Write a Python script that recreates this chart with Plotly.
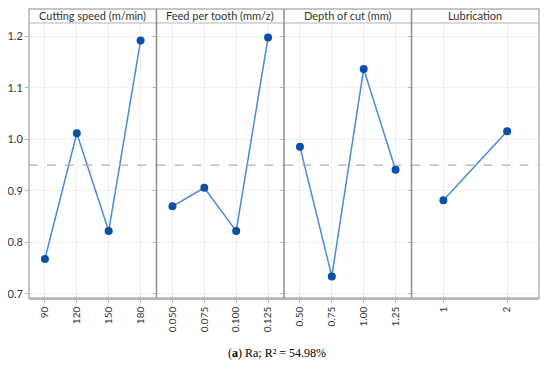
import plotly.graph_objects as go
from plotly.subplots import make_subplots

factors = ["Cutting speed (m/min)", "Feed per tooth (mm/z)", "Depth of cut (mm)", "Lubrication"]
cutting_levels = ["90", "120", "150", "180"]
cutting_means = [0.768, 1.012, 0.822, 1.192]
feed_levels = ["0.050", "0.075", "0.100", "0.125"]
feed_means = [0.870, 0.906, 0.822, 1.198]
depth_levels = ["0.50", "0.75", "1.00", "1.25"]
depth_means = [0.986, 0.734, 1.137, 0.941]
lub_levels = ["1", "2"]
lub_means = [0.882, 1.016]
grand_mean = 0.950
y_ticks = [0.7, 0.8, 0.9, 1.0, 1.1, 1.2]
y_tick_labels = ["0.7", "0.8", "0.9", "1.0", "1.1", "1.2"]
caption = "(<b>a</b>) Ra; R² = 54.98%"

levels = [cutting_levels, feed_levels, depth_levels, lub_levels]
means = [cutting_means, feed_means, depth_means, lub_means]

fig = make_subplots(rows=1, cols=4, shared_yaxes=True, horizontal_spacing=0)

font_fam = "Lato, 'Noto Sans', sans-serif"
frame = "#b4b4b4"
sep = "#8e8e8e"
grid = "#f0f0f0"
top_dom = (298 - 23) / 289.0

for i, (lv, mv) in enumerate(zip(levels, means)):
    fig.add_trace(go.Scatter(
        x=lv, y=mv, mode="lines+markers",
        line=dict(color="#4a8ad4", width=1.5),
        marker=dict(color="#0a50a8", size=8, symbol="circle"),
        showlegend=False, cliponaxis=False,
    ), row=1, col=i + 1)
    fig.update_xaxes(
        type="category", categoryorder="array", categoryarray=lv,
        range=[-0.5, len(lv) - 0.5],
        tickangle=-90, tickfont=dict(family=font_fam, size=10, color="#333333"),
        showgrid=True, gridcolor=grid, gridwidth=1,
        showline=True, linecolor=frame, linewidth=1.5, mirror=False,
        ticks="outside", ticklen=3, tickcolor=frame,
        zeroline=False, automargin=False,
        row=1, col=i + 1,
    )
    xr = f"x{'' if i == 0 else i + 1} domain"
    fig.add_shape(type="line", xref=xr, yref="y",
                  x0=0, x1=1, y0=grand_mean, y1=grand_mean,
                  line=dict(color="#b0b0b0", width=1.2, dash="dash"))

fig.update_yaxes(
    range=[0.692, 1.2262], domain=[0, top_dom],
    tickvals=y_ticks, ticktext=y_tick_labels,
    tickfont=dict(family=font_fam, size=11, color="#333333"),
    showgrid=True, gridcolor=grid, gridwidth=1,
    showline=False, zeroline=False, automargin=False,
    ticks="outside", ticklen=3, tickcolor=frame,
)

fig.add_shape(type="rect", xref="paper", yref="paper", x0=0, x1=1, y0=0, y1=1,
              line=dict(color=frame, width=1.5))
fig.add_shape(type="line", xref="paper", yref="paper", x0=0, x1=1, y0=top_dom, y1=top_dom,
              line=dict(color=frame, width=1.2))
for i, name in enumerate(factors):
    d0 = i / 4.0
    d1 = (i + 1) / 4.0
    if i > 0:
        fig.add_shape(type="line", xref="paper", yref="paper", x0=d0, x1=d0, y0=0, y1=1,
                      line=dict(color=sep, width=1.5))
    fig.add_annotation(x=(d0 + d1) / 2, y=(top_dom + 1) / 2, xref="paper", yref="paper",
                       text=name, showarrow=False, xanchor="center", yanchor="middle",
                       font=dict(family=font_fam, size=11, color="#333333"))

fig.add_annotation(x=0.487, y=-0.19, xref="paper", yref="paper", text=caption,
                   showarrow=False, xanchor="center", yanchor="middle",
                   font=dict(family="'Liberation Serif', 'Times New Roman', serif", size=12, color="#000000"))

fig.update_layout(
    width=542, height=371,
    margin=dict(l=21, r=11, t=1, b=81, autoexpand=False),
    plot_bgcolor="white", paper_bgcolor="white",
)

fig.write_html("out.html")
